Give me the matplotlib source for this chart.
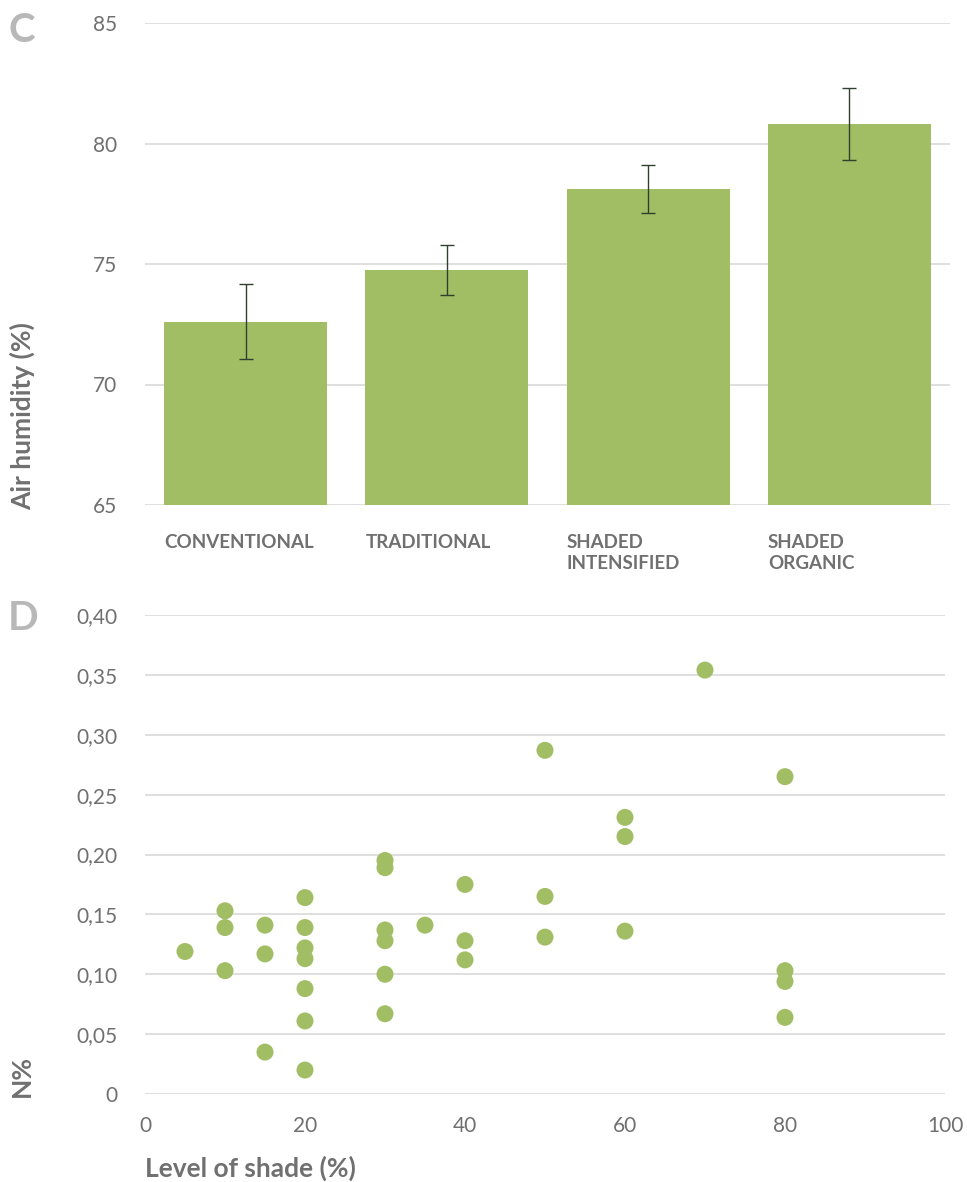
import matplotlib.pyplot as plt

plt.rcParams['font.family'] = ['Lato', 'DejaVu Sans']

# panel C data
systems = ['CONVENTIONAL', 'TRADITIONAL', 'SHADED\nINTENSIFIED', 'SHADED\nORGANIC']
humidity = [72.6, 74.75, 78.1, 80.8]
humidity_err = [1.55, 1.05, 1.0, 1.5]
hum_ticks = [65, 70, 75, 80, 85]

# panel D data
shade = [5, 10, 10, 10, 15, 15, 15,
         20, 20, 20, 20, 20, 20, 20,
         30, 30, 30, 30, 30, 30, 35,
         40, 40, 40, 50, 50, 50,
         60, 60, 60, 70, 80, 80, 80, 80]
nitrogen = [0.119, 0.153, 0.139, 0.103, 0.141, 0.117, 0.035,
            0.164, 0.139, 0.122, 0.113, 0.088, 0.061, 0.020,
            0.195, 0.189, 0.137, 0.128, 0.100, 0.067, 0.141,
            0.175, 0.128, 0.112, 0.287, 0.165, 0.131,
            0.231, 0.215, 0.136, 0.354, 0.265, 0.103, 0.094, 0.064]
n_ticks = [0, 0.05, 0.10, 0.15, 0.20, 0.25, 0.30, 0.35, 0.40]
n_labels = ['0', '0,05', '0,10', '0,15', '0,20', '0,25', '0,30', '0,35', '0,40']
shade_ticks = [0, 20, 40, 60, 80, 100]

green = '#A1BE64'
txt = '#707070'
grid = '#d9d9d9'

W, H = 967, 1182
fig = plt.figure(figsize=(W / 100, H / 100), dpi=100)

def box(l, t, r, b):
    return [l / W, 1 - b / H, (r - l) / W, (b - t) / H]

# ---- C ----
ax1 = fig.add_axes(box(145, 23, 950, 505))
x = range(len(systems))
ax1.bar(x, humidity, width=0.81, color=green, zorder=2,
        yerr=humidity_err, error_kw=dict(ecolor='#2f402f', elinewidth=1, capsize=5, capthick=1))
ax1.set_ylim(65, 85)
ax1.set_xlim(-0.5, 3.5)
ax1.set_yticks(hum_ticks)
ax1.yaxis.grid(True, color=grid, lw=1.2, zorder=0)
ax1.set_xticks([])
for s in ax1.spines.values():
    s.set_visible(False)
ax1.tick_params(axis='y', length=0, pad=20, labelsize=15, labelcolor=txt)
for i, lab in enumerate(systems):
    ax1.text(i - 0.405, 63.8, lab, ha='left', va='top', fontsize=13.5,
             fontweight='bold', color=txt, linespacing=1.3)

# ---- D ----
ax2 = fig.add_axes(box(145, 615, 945, 1094))
ax2.scatter(shade, nitrogen, s=150, color=green, edgecolors='none', zorder=3)
ax2.set_xlim(0, 100)
ax2.set_ylim(0, 0.40)
ax2.set_yticks(n_ticks)
ax2.set_yticklabels(n_labels)
ax2.set_xticks(shade_ticks)
ax2.yaxis.grid(True, color=grid, lw=1.2, zorder=0)
for s in ax2.spines.values():
    s.set_visible(False)
ax2.tick_params(axis='y', length=0, pad=20, labelsize=15, labelcolor=txt)
ax2.tick_params(axis='x', length=0, pad=16, labelsize=15, labelcolor=txt)

# labels
fig.text(22 / W, 1 - 510 / H, 'Air humidity (%)', rotation=90, ha='center', va='bottom',
         fontsize=19, fontweight='bold', color=txt)
fig.text(22 / W, 1 - 1097 / H, 'N%', rotation=90, ha='center', va='bottom',
         fontsize=19, fontweight='bold', color=txt)
fig.text(145 / W, 1 - 1168 / H, 'Level of shade (%)', ha='left', va='center',
         fontsize=19, fontweight='bold', color=txt)
fig.text(8 / W, 1 - 31 / H, 'C', ha='left', va='center', fontsize=29,
         fontweight='bold', color='#b8b8b8')
fig.text(8 / W, 1 - 618 / H, 'D', ha='left', va='center', fontsize=29,
         fontweight='bold', color='#b8b8b8')

fig.savefig('out.png', dpi=100)
